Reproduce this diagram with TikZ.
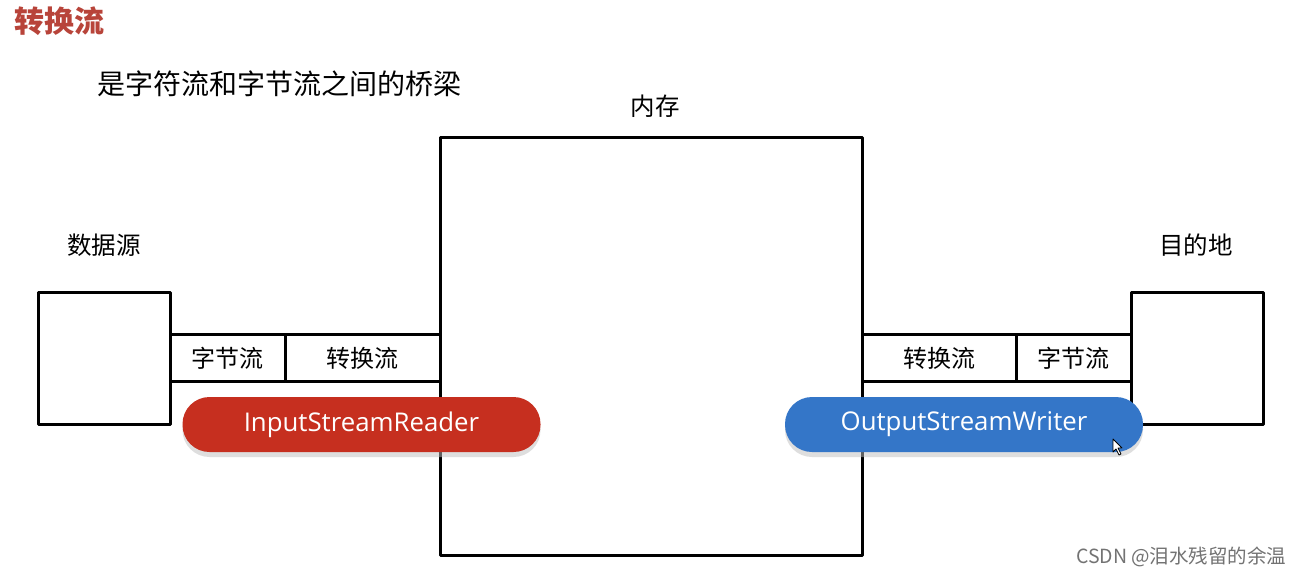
\documentclass[tikz,border=0pt]{standalone}
\usepackage{fontspec}
\setmainfont{Open Sans}
\newfontfamily\cjk{Noto Sans CJK SC}
\usetikzlibrary{positioning,shadows}
\definecolor{titlered}{HTML}{B8443A}
\definecolor{pillred}{HTML}{C62F1F}
\definecolor{pillblue}{HTML}{3476C8}
\tikzset{
  bigbox/.style={draw, line width=3pt, outer sep=0pt, inner sep=0pt},
  cell/.style={draw, line width=3pt, outer sep=0pt, inner sep=0pt, minimum height=47pt,
    font=\cjk\fontsize{24}{26}\selectfont},
  pill/.style={rounded corners=27pt, minimum width=358pt, minimum height=55pt, text=white,
    font=\fontsize{25.8}{28}\selectfont,
    drop shadow={shadow xshift=0pt, shadow yshift=-5pt, fill=black!25, opacity=0.5}},
  tag/.style={font=\cjk\fontsize{24.5}{27}\selectfont}
}
\begin{document}
\begin{tikzpicture}[x=1pt, y=-1pt, line join=round]
\useasboundingbox[fill=white] (0,0) rectangle (1302,576);
% titles
\node[font=\cjk\bfseries\fontsize{30}{32}\selectfont, text=titlered] (title) at (60,21) {转换流};
\node[tag, anchor=west, font=\cjk\fontsize{28}{30}\selectfont] (intro) at (94,84) {是字符流和字节流之间的桥梁};
% memory
\node[bigbox, minimum width=422pt, minimum height=418pt] (mem) at (651,346) {};
\node[tag] (memlbl) at (655,106) {内存};
% source and destination
\node[bigbox, minimum width=132pt, minimum height=132pt] (src) at (104,358) {};
\node[tag] (srclbl) at (104,245) {数据源};
\node[bigbox, minimum width=132pt, minimum height=132pt] (dst) at (1197,358) {};
\node[tag] (dstlbl) at (1196,245) {目的地};
% pipes
\node[cell, minimum width=115pt, right=0pt of src] (lbyte) {字节流};
\node[cell, minimum width=155pt, right=0pt of lbyte] (lconv) {转换流};
\node[cell, minimum width=115pt, left=0pt of dst] (rbyte) {字节流};
\node[cell, minimum width=154pt, left=0pt of rbyte] (rconv) {转换流};
% stream classes
\node[pill, fill=pillred] (reader) at (361.5,424.5) {InputStreamReader};
\node[pill, fill=pillblue] (writer) at (964,424.5) {OutputStreamWriter};
% cursor
\draw[fill=white, line width=0.8pt] (1113,439) -- (1113,452) -- (1116,449) -- (1119,455)
  -- (1121,454) -- (1118,448) -- (1122,448) -- cycle;
% watermark
\node[anchor=east, text=black!55, font=\cjk\fontsize{19.5}{21}\selectfont] (mark) at (1290,557) {CSDN @泪水残留的余温};
\end{tikzpicture}
\end{document}
